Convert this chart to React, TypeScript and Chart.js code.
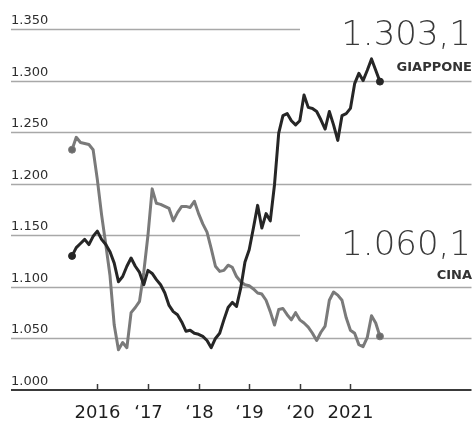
import { useEffect, useRef } from "react";
import { Chart, registerables } from "chart.js";

Chart.register(...registerables);

// ---- data ----
const months = [
  "2015-07", "2015-08", "2015-09", "2015-10", "2015-11", "2015-12",
  "2016-01", "2016-02", "2016-03", "2016-04", "2016-05", "2016-06", "2016-07", "2016-08", "2016-09", "2016-10", "2016-11", "2016-12",
  "2017-01", "2017-02", "2017-03", "2017-04", "2017-05", "2017-06", "2017-07", "2017-08", "2017-09", "2017-10", "2017-11", "2017-12",
  "2018-01", "2018-02", "2018-03", "2018-04", "2018-05", "2018-06", "2018-07", "2018-08", "2018-09", "2018-10", "2018-11", "2018-12",
  "2019-01", "2019-02", "2019-03", "2019-04", "2019-05", "2019-06", "2019-07", "2019-08", "2019-09", "2019-10", "2019-11", "2019-12",
  "2020-01", "2020-02", "2020-03", "2020-04", "2020-05", "2020-06", "2020-07", "2020-08", "2020-09", "2020-10", "2020-11", "2020-12",
  "2021-01", "2021-02", "2021-03", "2021-04", "2021-05", "2021-06", "2021-07", "2021-08",
];

const japan = [
  1130, 1138, 1142, 1146, 1141, 1149,
  1154, 1146, 1141, 1134, 1123, 1105, 1110, 1120, 1128, 1120, 1114, 1102,
  1116, 1113, 1107, 1102, 1094, 1082, 1076, 1073, 1066, 1057, 1058, 1055,
  1054, 1052, 1048, 1041, 1050, 1055, 1068, 1080, 1085, 1081, 1099, 1124,
  1136, 1157, 1179, 1157, 1171, 1164, 1199, 1249, 1266, 1268, 1261, 1257,
  1261, 1286, 1274, 1273, 1270, 1262, 1253, 1270, 1257, 1242, 1266, 1268,
  1273, 1297, 1307, 1300, 1310, 1321, 1310, 1299,
];

const china = [
  1233, 1245, 1240, 1239, 1238, 1233,
  1204, 1170, 1141, 1111, 1063, 1039, 1046, 1041, 1075, 1080, 1086, 1114,
  1150, 1195, 1181, 1180, 1178, 1176, 1164, 1172, 1178, 1178, 1177, 1183,
  1171, 1161, 1153, 1137, 1120, 1115, 1116, 1121, 1119, 1110, 1105, 1102,
  1101, 1098, 1094, 1093, 1087, 1076, 1063, 1078, 1079, 1073, 1068, 1075,
  1068, 1065, 1061, 1055, 1048, 1056, 1062, 1087, 1095, 1092, 1087, 1070,
  1058, 1055, 1044, 1042, 1051, 1072, 1065, 1052,
];

const yTickValues = [1000, 1050, 1100, 1150, 1200, 1250, 1300, 1350];
const yTickLabels = ["1.000", "1.050", "1.100", "1.150", "1.200", "1.250", "1.300", "1.350"];
const shortGridValues = [1350, 1150];

const xTickYears = [2016, 2017, 2018, 2019, 2020, 2021];
const xTickLabels = ["2016", "\u201817", "\u201818", "\u201819", "\u201820", "2021"];

const japanValueLabel = "1.303,1";
const japanNameLabel = "GIAPPONE";
const chinaValueLabel = "1.060,1";
const chinaNameLabel = "CINA";

// ---- helpers ----
const toYear = (m: string) => {
  const [yy, mm] = m.split("-").map(Number);
  return yy + (mm - 1) / 12;
};

const FONT = "'DejaVu Sans', 'Liberation Sans', sans-serif";

const decorPlugin = {
  id: "decor",
  beforeDatasetsDraw(chart: any) {
    const { ctx, chartArea, scales } = chart;
    const x = scales.x;
    const y = scales.y;
    const shortEnd = 300;
    ctx.save();
    // grid lines
    yTickValues.forEach((v, i) => {
      const py = Math.round(y.getPixelForValue(v)) + 0.5;
      if (i > 0) {
        const xEnd = shortGridValues.includes(v) ? shortEnd : chartArea.right;
        ctx.beginPath();
        ctx.strokeStyle = "#a8a8a8";
        ctx.lineWidth = 1.3;
        ctx.moveTo(chartArea.left, py);
        ctx.lineTo(xEnd, py);
        ctx.stroke();
      }
      ctx.fillStyle = "#2e2e2e";
      ctx.font = `13px ${FONT}`;
      ctx.textAlign = "left";
      ctx.textBaseline = "alphabetic";
      ctx.fillText(yTickLabels[i], chartArea.left, py - 6);
    });
    // x axis line
    const axisY = Math.round(y.getPixelForValue(yTickValues[0]));
    ctx.beginPath();
    ctx.strokeStyle = "#3a3a3a";
    ctx.lineWidth = 2;
    ctx.moveTo(chartArea.left, axisY);
    ctx.lineTo(chartArea.right, axisY);
    ctx.stroke();
    // ticks and labels
    xTickYears.forEach((yr, i) => {
      const px = Math.round(x.getPixelForValue(yr)) + 0.5;
      ctx.beginPath();
      ctx.strokeStyle = "#3a3a3a";
      ctx.lineWidth = 1.5;
      ctx.moveTo(px, axisY);
      ctx.lineTo(px, axisY - 6);
      ctx.stroke();
      ctx.fillStyle = "#1e1e1e";
      ctx.font = `18px ${FONT}`;
      ctx.textAlign = "center";
      ctx.fillText(xTickLabels[i], px, 418);
    });
    ctx.restore();
  },
  afterDraw(chart: any) {
    const { ctx } = chart;
    ctx.save();
    ctx.textAlign = "right";
    ctx.textBaseline = "alphabetic";
    ctx.fillStyle = "#3a3a3a";
    ctx.font = `200 34px ${FONT}`;
    ctx.fillText(japanValueLabel, 471, 45);
    ctx.fillText(chinaValueLabel, 471, 255);
    ctx.fillStyle = "#333333";
    ctx.font = `bold 13px ${FONT}`;
    ctx.fillText(japanNameLabel, 472, 71);
    ctx.fillText(chinaNameLabel, 472, 279);
    ctx.restore();
  },
};

const endPointRadius = (n: number) => (c: any) => (c.dataIndex === 0 || c.dataIndex === n - 1 ? 3.5 : 0);

export default function App() {
  const ref = useRef<HTMLCanvasElement | null>(null);

  useEffect(() => {
    document.body.style.margin = "0";
    const canvas = ref.current;
    if (!canvas) return;
    const xs = months.map(toYear);
    const chart = new Chart(canvas, {
      type: "line",
      data: {
        datasets: [
          {
            label: japanNameLabel,
            data: xs.map((xv, i) => ({ x: xv, y: japan[i] })),
            borderColor: "#262626",
            backgroundColor: "#262626",
            borderWidth: 3,
            borderJoinStyle: "round",
            borderCapStyle: "round",
            tension: 0,
            pointRadius: endPointRadius(japan.length),
            pointBorderWidth: 1,
            pointHoverRadius: 0,
          },
          {
            label: chinaNameLabel,
            data: xs.map((xv, i) => ({ x: xv, y: china[i] })),
            borderColor: "#7a7a7a",
            backgroundColor: "#6a6a6a",
            borderWidth: 3,
            borderJoinStyle: "round",
            borderCapStyle: "round",
            tension: 0,
            pointRadius: endPointRadius(china.length),
            pointBorderWidth: 1,
            pointHoverRadius: 0,
          },
        ],
      },
      options: {
        animation: false,
        responsive: false,
        events: [],
        layout: { padding: { left: 11, right: 1, top: 29, bottom: 31 } },
        plugins: { legend: { display: false }, tooltip: { enabled: false } },
        scales: {
          x: { type: "linear", display: false, min: 2016 - 87 / 51, max: 2016 + 377 / 51 },
          y: { type: "linear", display: false, min: 1000, max: 1350 },
        },
      },
      plugins: [decorPlugin],
    } as any);
    return () => chart.destroy();
  }, []);

  return <canvas ref={ref} width={476} height={421} style={{ display: "block" }} />;
}
